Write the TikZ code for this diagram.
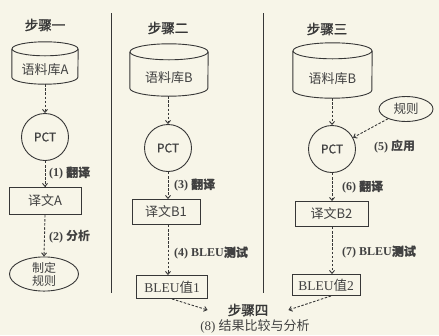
\documentclass[tikz,border=0pt]{standalone}
\usepackage{fontspec}
\setmainfont{Liberation Serif}
\newfontfamily\cjk{Noto Sans CJK SC}
\newfontfamily\cjkb[FakeBold=1.5]{Noto Sans CJK SC}
\newfontfamily\cjkm[FakeBold=0.8]{Noto Sans CJK SC}
\usetikzlibrary{arrows.meta,shapes.geometric}
\definecolor{bg}{RGB}{247,245,232}
\definecolor{ink}{RGB}{55,55,55}
\definecolor{txt}{RGB}{65,65,65}
\begin{document}
\begin{tikzpicture}[x=1pt,y=-1pt,
  every node/.style={text=txt, inner sep=0pt},
  cylbody/.style={inner sep=0pt, font=\cjk\fontsize{13}{15}\selectfont},
  cyl/.style={draw=ink, line width=0.9pt},
  pct/.style={circle, draw=ink, line width=0.9pt, minimum size=47pt, font=\cjkm\fontsize{12}{13}\selectfont},
  tbox/.style={rectangle, draw=ink, line width=0.9pt, font=\cjk\fontsize{13}{15}\selectfont},
  sbox/.style={rectangle, draw=ink, line width=0.9pt, font=\fontsize{13.5}{15}\selectfont},
  oval/.style={ellipse, draw=ink, line width=0.9pt, inner sep=0pt, font=\cjk\fontsize{12}{13}\selectfont, align=center},
  flow/.style={draw=ink, line width=0.9pt, dash pattern=on 2.5pt off 1.6pt, -{Straight Barb[length=3pt,width=5pt]}},
  lbl/.style={anchor=west, font=\fontsize{12}{14}\selectfont\bfseries},
  head/.style={font=\cjkb\fontsize{13.5}{15}\selectfont, text=ink},
  divider/.style={draw=ink, line width=0.8pt}
]
\fill[bg] (0,0) rectangle (439,335);
\useasboundingbox (0,0) rectangle (439,335);

% dividers
\coordinate (d1t) at (111,13); \coordinate (d1b) at (111,293);
\coordinate (d2t) at (263,13); \coordinate (d2b) at (263,293);
\draw[divider] (d1t) -- (d1b);
\draw[divider] (d2t) -- (d2b);

% headings
\node[head] (h1) at (45,25) {步骤一};
\node[head] (h2) at (168,28) {步骤二};
\node[head] (h3) at (327,29) {步骤三};

% ---------- column 1 ----------
\node[cylbody, minimum width=66pt, minimum height=28pt] (cA) at (45,70) {语料库A};
\draw[cyl] ([yshift=7pt]cA.north) ellipse [x radius=33pt, y radius=7pt];
\draw[cyl] ([yshift=7pt]cA.north west) -- ([yshift=7pt]cA.south west)
  arc[start angle=180, end angle=360, x radius=33pt, y radius=7pt] -- ([yshift=7pt]cA.north east);
\node[pct] (pA) at (45,137) {PCT};
\node[tbox, minimum width=72pt, minimum height=27pt] (tA) at (45,201) {译文A};
\node[oval, minimum width=69pt, minimum height=28pt] (rA) at (44,274) {制定\\规则};
\draw[flow] (cA.south) -- (pA.north);
\draw[flow] (pA.south) -- (tA.north);
\draw[flow] (tA.south) -- (rA.north);
\node[lbl] (l1) at (49,173) {(1) {\cjkm 翻译}};
\node[lbl] (l2) at (49,237) {(2) {\cjk 分析}};

% ---------- column 2 ----------
\node[cylbody, minimum width=78pt, minimum height=36pt] (cB) at (169,78) {语料库B};
\draw[cyl] ([yshift=8pt]cB.north) ellipse [x radius=39pt, y radius=8pt];
\draw[cyl] ([yshift=8pt]cB.north west) -- ([yshift=8pt]cB.south west)
  arc[start angle=180, end angle=360, x radius=39pt, y radius=8pt] -- ([yshift=8pt]cB.north east);
\node[pct] (pB) at (168,148) {PCT};
\node[tbox, minimum width=68pt, minimum height=25pt] (tB1) at (166,212) {译文B1};
\node[sbox, minimum width=71pt, minimum height=23pt] (bB1) at (172,287) {BLEU{\cjk 值}1};
\draw[flow] (cB.south -| pB.north) -- (pB.north);
\draw[flow] (pB.south) -- (pB.south |- tB1.north);
\draw[flow] (pB.south |- tB1.south) -- (pB.south |- bB1.north);
\node[lbl] (l3) at (174,185) {(3) {\cjkm 翻译}};
\node[lbl] (l4) at (174,253) {(4) BLEU{\cjkm 测试}};

% ---------- column 3 ----------
\node[cylbody, minimum width=79pt, minimum height=39pt] (cC) at (332.5,78.5) {语料库B};
\draw[cyl] ([yshift=8pt]cC.north) ellipse [x radius=39.5pt, y radius=8pt];
\draw[cyl] ([yshift=8pt]cC.north west) -- ([yshift=8pt]cC.south west)
  arc[start angle=180, end angle=360, x radius=39.5pt, y radius=8pt] -- ([yshift=8pt]cC.north east);
\node[oval, minimum width=54pt, minimum height=25pt, font=\cjk\fontsize{12.5}{14}\selectfont] (rC) at (406,109) {规则};
\node[pct] (pC) at (332,149) {PCT};
\node[tbox, minimum width=73pt, minimum height=25pt] (tB2) at (331.5,214) {译文B2};
\node[sbox, minimum width=68pt, minimum height=21pt] (bB2) at (326,285) {BLEU{\cjk 值}2};
\draw[flow] (cC.south -| pC.north) -- (pC.north);
\draw[flow] (rC) -- (pC);
\draw[flow] (pC.south) -- (pC.south |- tB2.north);
\draw[flow] (pC.south |- tB2.south) -- (pC.south |- bB2.north);
\node[lbl] (l5) at (374,147) {(5) {\cjk 应用}};
\node[lbl] (l6) at (342,187) {(6) {\cjkm 翻译}};
\node[lbl] (l7) at (342,252) {(7) BLEU{\cjkm 测试}};

% ---------- step 4 ----------
\node[head, inner xsep=20pt] (s4) at (248,310) {步骤四};
\node[font=\fontsize{13}{15}\selectfont] (l8) at (255,326) {(8) {\cjk 结果比较与分析}};
\draw[flow] (bB1.south) -- (s4.west);
\draw[flow] ([xshift=5pt]bB2.south) -- (s4.east);
\end{tikzpicture}
\end{document}
